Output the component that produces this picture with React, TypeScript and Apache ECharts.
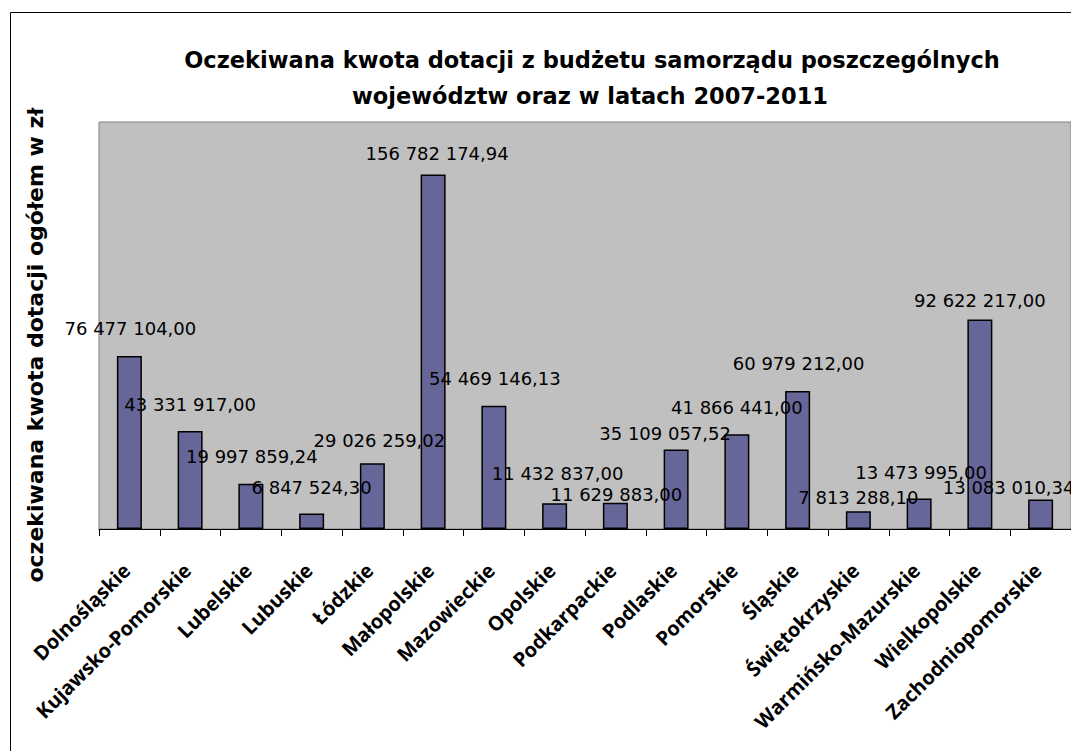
import React, { useEffect, useRef } from "react";
import * as echarts from "echarts";

const categories = [
  "Dolnośląskie",
  "Kujawsko-Pomorskie",
  "Lubelskie",
  "Lubuskie",
  "Łódzkie",
  "Małopolskie",
  "Mazowieckie",
  "Opolskie",
  "Podkarpackie",
  "Podlaskie",
  "Pomorskie",
  "Śląskie",
  "Świętokrzyskie",
  "Warmińsko-Mazurskie",
  "Wielkopolskie",
  "Zachodniopomorskie",
];

const values = [
  76477104.0, 43331917.0, 19997859.24, 6847524.3, 29026259.02, 156782174.94,
  54469146.13, 11432837.0, 11629883.0, 35109057.52, 41866441.0, 60979212.0,
  7813288.1, 13473995.0, 92622217.0, 13083010.34,
];

// label displacement (as in the original, where Excel placed them irregularly)
const labelOffsets: [number, number][] = [
  [1, -19], [0, -18], [1, -18], [0, -17], [7, -14], [4, -12], [1, -18], [3, -21],
  [1, 1], [-11, -7], [0, -18], [1, -19], [0, -5], [2, -17], [0, -10], [-32, -3],
];

const titleLines = [
  "Oczekiwana kwota dotacji z budżetu samorządu poszczególnych",
  "województw oraz w latach 2007-2011",
];
const yAxisTitle = "oczekiwana kwota dotacji ogółem w zł";
const yMax = 180000000;

function fmt(v: number): string {
  const [i, d] = v.toFixed(2).split(".");
  return i.replace(/\B(?=(\d{3})+(?!\d))/g, " ") + "," + d;
}

export default function App() {
  const ref = useRef<HTMLDivElement>(null);
  useEffect(() => {
    if (!ref.current) return;
    const chart = echarts.init(ref.current, undefined, { renderer: "svg" });
    chart.setOption({
      animation: false,
      backgroundColor: "#ffffff",
      grid: {
        left: 99,
        top: 122,
        width: 975,
        height: 407,
        show: true,
        backgroundColor: "#C0C0C0",
        borderColor: "#808080",
        borderWidth: 1,
      },
      xAxis: {
        type: "category",
        data: categories,
        boundaryGap: true,
        axisLine: { show: true, lineStyle: { color: "#000000", width: 1 } },
        axisTick: { show: true, interval: 0, length: 7, lineStyle: { color: "#000000" } },
        axisLabel: {
          interval: 0,
          rotate: 45,
          margin: 35,
          padding: [0, 4, 0, 0],
          color: "#000000",
          fontFamily: "Open Sans",
          fontWeight: "bold",
          fontSize: 20,
        },
        splitLine: { show: false },
      },
      yAxis: {
        type: "value",
        min: 0,
        max: yMax,
        axisLine: { show: false },
        axisTick: { show: false },
        axisLabel: { show: false },
        splitLine: { show: false },
      },
      series: [
        {
          type: "bar",
          barWidth: 25,
          data: values.map((v, i) => ({
            value: v,
            label: { offset: labelOffsets[i] },
          })),
          itemStyle: { color: "#666699", borderColor: "#000000", borderWidth: 1.5 },
          label: {
            show: true,
            position: "top",
            distance: 0,
            color: "#000000",
            fontFamily: "DejaVu Sans",
            fontSize: 18,
            formatter: (p: any) => fmt(p.value),
          },
        },
      ],
      graphic: [
        {
          type: "rect",
          shape: { x: 10.5, y: 12.5, width: 1200, height: 900 },
          style: { fill: "none", stroke: "#000000", lineWidth: 1 },
          silent: true,
          z: 100,
        },
        {
          type: "text",
          x: 592,
          y: 60,
          style: {
            text: titleLines[0],
            textAlign: "center",
            textVerticalAlign: "middle",
            fontFamily: "DejaVu Sans",
            fontWeight: "bold",
            fontSize: 22.5,
            fill: "#000000",
          },
        },
        {
          type: "text",
          x: 590,
          y: 96,
          style: {
            text: titleLines[1],
            textAlign: "center",
            textVerticalAlign: "middle",
            fontFamily: "DejaVu Sans",
            fontWeight: "bold",
            fontSize: 22.5,
            fill: "#000000",
          },
        },
        {
          type: "text",
          x: 35,
          y: 345,
          rotation: Math.PI / 2,
          style: {
            text: yAxisTitle,
            textAlign: "center",
            textVerticalAlign: "middle",
            fontFamily: "DejaVu Sans",
            fontWeight: "bold",
            fontSize: 22,
            fill: "#000000",
          },
        },
      ],
    });
    return () => chart.dispose();
  }, []);
  return (
    <div
      ref={ref}
      style={{ position: "fixed", left: 0, top: 0, width: 1071, height: 751, overflow: "hidden" }}
    />
  );
}
